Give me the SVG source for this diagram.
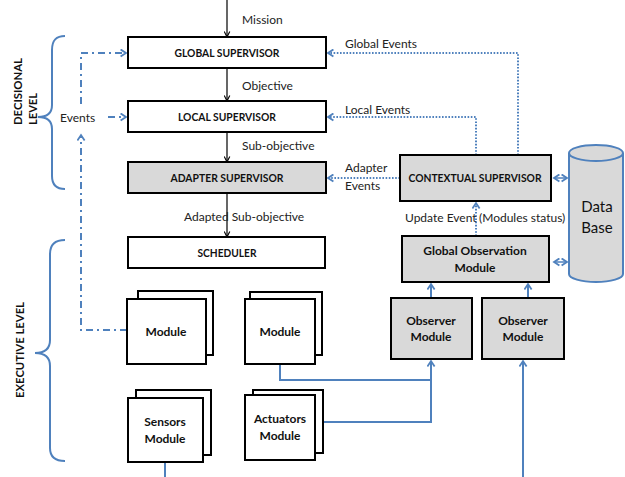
<svg xmlns="http://www.w3.org/2000/svg" width="625" height="477" viewBox="0 0 625 477">
<defs>
<style>
.box{fill:#fff;stroke:#000;stroke-width:2}
.gbox{fill:#d9d9d9;stroke:#000;stroke-width:2}
.t{font-family:Lato,"Liberation Sans",sans-serif;font-size:12px;fill:#222}
.tb{font-family:Lato,"Liberation Sans",sans-serif;font-size:12px;font-weight:bold;fill:#111;text-anchor:middle}
.tm{font-family:Lato,"Liberation Sans",sans-serif;font-size:12px;fill:#111;text-anchor:middle}
.blk{fill:none;stroke:#000;stroke-width:1.2;marker-end:url(#ak)}
.dot{fill:none;stroke:#4f81bd;stroke-width:2;stroke-dasharray:1.6 1.6}
.dd{fill:none;stroke:#4f81bd;stroke-width:2;stroke-dasharray:7 4 2 4}
.sol{fill:none;stroke:#4f81bd;stroke-width:2}
.br{fill:none;stroke:#4f81bd;stroke-width:2}
</style>
<marker id="ak" viewBox="0 0 10 10" refX="9" refY="5" markerWidth="7" markerHeight="7" orient="auto" markerUnits="userSpaceOnUse">
<path d="M1,1 L9,5 L1,9" fill="none" stroke="#000" stroke-width="1.6"/>
</marker>
<marker id="ab" viewBox="0 0 10 10" refX="8" refY="5" markerWidth="9" markerHeight="9" orient="auto-start-reverse" markerUnits="userSpaceOnUse">
<path d="M2,1 L8,5 L2,9" fill="none" stroke="#4f81bd" stroke-width="2"/>
</marker>
</defs>

<g id="brackets">
<path class="br" d="M65,36 C56,36 52,40 52,50 V105 C52,113 47,117 38,117 C47,117 52,121 52,129 V176 C52,185 56,189 65,189"/>
<path class="br" d="M65,240 C56,240 50,244 50,254 V340 C50,349 45,353 35,353 C45,353 50,357 50,366 V448 C50,457 56,461 65,461"/>
<text class="tb" transform="translate(22,125) rotate(-90)" style="text-anchor:start" textLength="67" lengthAdjust="spacingAndGlyphs">DECISIONAL</text>
<text class="tb" transform="translate(37,125) rotate(-90)" style="text-anchor:start" textLength="32" lengthAdjust="spacingAndGlyphs">LEVEL</text>
<text class="tb" transform="translate(24,350) rotate(-90)" textLength="96" lengthAdjust="spacingAndGlyphs">EXECUTIVE LEVEL</text>
</g>

<g id="connectors">
<path class="blk" d="M227,0 V37"/>
<path class="blk" d="M227,68 V101"/>
<path class="blk" d="M227,132 V162"/>
<path class="blk" d="M227,193 V237"/>
<path class="dot" d="M518,155 V53 H328" marker-end="url(#ab)"/>
<path class="dot" d="M476,155 V117 H328" marker-end="url(#ab)"/>
<path class="dot" d="M400,178 H328" marker-end="url(#ab)"/>
<path class="dot" d="M476,236 V203" marker-end="url(#ab)"/>
<path class="dd" d="M127,330 H81 V135" marker-end="url(#ab)"/>
<path class="dd" d="M81,104 V53 H126" marker-end="url(#ab)"/>
<path class="dd" d="M108,117 H126" marker-end="url(#ab)"/>
<path class="sol" d="M280,364 V380 H431 V361" marker-end="url(#ab)"/>
<path class="sol" d="M323,422 H431 V380"/>
<path class="sol" d="M165,462 V477"/>
<path class="sol" d="M523,477 V361" marker-end="url(#ab)"/>
<path class="sol" d="M431,298 V284" marker-end="url(#ab)"/>
<path class="sol" d="M528,298 V284" marker-end="url(#ab)"/>
<path class="sol" d="M554,178 H567" marker-start="url(#ab)" marker-end="url(#ab)" style="stroke-width:1.5"/>
<path class="sol" d="M554,262 H567" marker-start="url(#ab)" marker-end="url(#ab)" style="stroke-width:1.5"/>
<text class="t" x="242" y="24">Mission</text>
<text class="t" x="242" y="90">Objective</text>
<text class="t" x="242" y="150">Sub-objective</text>
<text class="t" x="184" y="221">Adapted Sub-objective</text>
<text class="t" x="345" y="48">Global Events</text>
<text class="t" x="345" y="114">Local Events</text>
<text class="t" x="345" y="172">Adapter</text>
<text class="t" x="345" y="190">Events</text>
<text class="t" x="60" y="122">Events</text>
<text class="t" x="405" y="222">Update Event</text>
<text class="t" x="479" y="222">(Modules status)</text>
</g>

<g id="global-supervisor"><rect class="box" x="128" y="37" width="198" height="31"/><text class="tb" x="227" y="57" textLength="105" lengthAdjust="spacingAndGlyphs">GLOBAL SUPERVISOR</text></g>
<g id="local-supervisor"><rect class="box" x="128" y="101" width="198" height="31"/><text class="tb" x="227" y="121" textLength="98" lengthAdjust="spacingAndGlyphs">LOCAL SUPERVISOR</text></g>
<g id="adapter-supervisor"><rect class="gbox" x="128" y="162" width="198" height="31"/><text class="tb" x="227" y="182" textLength="113" lengthAdjust="spacingAndGlyphs">ADAPTER SUPERVISOR</text></g>
<g id="scheduler"><rect class="box" x="128" y="237" width="197" height="31"/><text class="tb" x="227" y="257" textLength="59" lengthAdjust="spacingAndGlyphs">SCHEDULER</text></g>
<g id="contextual-supervisor"><rect class="gbox" x="400" y="155" width="151" height="46"/><text class="tb" x="475" y="182" textLength="133" lengthAdjust="spacingAndGlyphs">CONTEXTUAL SUPERVISOR</text></g>
<g id="global-observation"><rect class="gbox" x="402" y="236" width="147" height="46"/><text class="tb" x="475" y="255">Global Observation</text><text class="tb" x="475" y="272">Module</text></g>
<g id="observer1"><rect class="gbox" x="391" y="298" width="81" height="61"/><text class="tb" x="431" y="325">Observer</text><text class="tb" x="431" y="341">Module</text></g>
<g id="observer2"><rect class="gbox" x="482" y="298" width="82" height="61"/><text class="tb" x="523" y="325">Observer</text><text class="tb" x="523" y="341">Module</text></g>
<g id="module1"><rect class="box" x="138" y="291" width="75" height="64"/><rect class="box" x="127" y="299" width="79" height="65"/><text class="tb" x="166" y="336">Module</text></g>
<g id="module2"><rect class="box" x="250" y="292" width="72" height="63"/><rect class="box" x="245" y="299" width="70" height="65"/><text class="tb" x="280" y="336">Module</text></g>
<g id="sensors"><rect class="box" x="136" y="390" width="75" height="65"/><rect class="box" x="128" y="398" width="75" height="64"/><text class="tb" x="165" y="426">Sensors</text><text class="tb" x="165" y="443">Module</text></g>
<g id="actuators"><rect class="box" x="253" y="390" width="70" height="63"/><rect class="box" x="245" y="395" width="70" height="65"/><text class="tb" x="280" y="423">Actuators</text><text class="tb" x="280" y="440">Module</text></g>
<g id="database">
<path d="M569,153 V274 A27,8 0 0 0 623,274 V153" fill="#d9d9d9" stroke="#4f81bd" stroke-width="2"/>
<ellipse cx="596" cy="153" rx="27" ry="8" fill="#d9d9d9" stroke="#4f81bd" stroke-width="2"/>
<text class="tm" x="597" y="212" style="font-size:15px">Data</text>
<text class="tm" x="597" y="233" style="font-size:15px">Base</text>
</g>
</svg>
